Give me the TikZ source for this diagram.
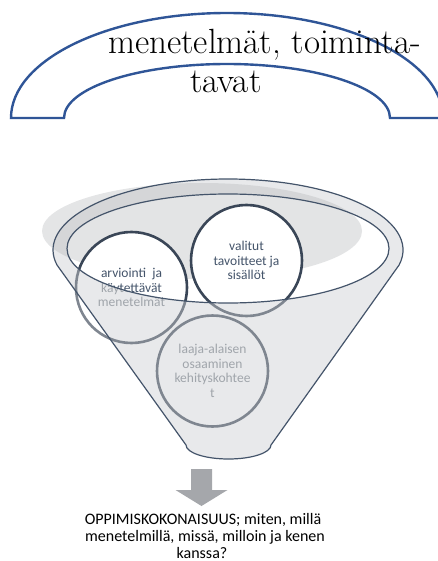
\documentclass[tikz,border=0pt]{standalone}
\usepackage{fontspec}
\newfontfamily\carlito{Carlito}
\definecolor{arcblue}{HTML}{2F5597}
\definecolor{slate}{HTML}{44546A}
\definecolor{slatedark}{HTML}{3A4657}
\definecolor{funnelgray}{HTML}{E8E9EB}
\definecolor{shadowgray}{HTML}{B4B6B9}
\definecolor{hiddenline}{HTML}{7F8690}
\definecolor{hiddentext}{HTML}{A0A5AB}
\definecolor{arrowgray}{HTML}{A5A7AB}
\tikzset{
  bubble/.style={circle, minimum size=111, inner sep=0, align=center,
    font=\carlito\fontsize{13.5}{14.6}\selectfont},
  bubbletop/.style={bubble, draw=slatedark, line width=2.6, fill=white, text=slate},
  bubblelow/.style={bubble, draw=hiddenline, line width=2.6, text=hiddentext},
  rimline/.style={draw=slate, line width=1.2},
  caption/.style={anchor=base, inner sep=0, font=\carlito\fontsize{16}{17}\selectfont},
  headline/.style={anchor=base west, inner sep=0, font=\fontsize{35}{40}\selectfont},
}
\begin{document}
\begin{tikzpicture}[x=1pt, y=-1pt]
\useasboundingbox (0,0) rectangle (438,561);

% block arc with its label
\path[draw=arcblue, line width=2.4, fill=white]
  (11,118) arc[start angle=180, end angle=360, x radius=216, y radius=105]
  -- (390,118) arc[start angle=360, end angle=180, x radius=163, y radius=54]
  -- cycle;
\node[headline] (title1) at (108,54) {menetelmät, toiminta-};
\node[headline] (title2) at (190,93) {tavat};

% funnel body, opening and inner shadow
\fill[funnelgray] (57,265) arc[start angle=167.8, end angle=372.2, x radius=175, y radius=71]
  -- (271,445) arc[start angle=0, end angle=180, x radius=42.5, y radius=14] -- cycle;
\fill[white] (228,248.5) ellipse[x radius=161, y radius=54.5];
\fill[shadowgray, fill opacity=0.36] (202,231) ellipse[x radius=160, y radius=48];

% circles seen through the opening
\begin{scope}
  \clip (0,0) -- (438,0) -- (438,248.5) -- (389,248.5)
    arc[start angle=0, end angle=180, x radius=161, y radius=54.5] -- (0,248.5) -- cycle;
  \node[bubbletop] (goals) at (246.5,260.5) {valitut\\tavoitteet ja\\sisällöt};
  \node[bubbletop] (assess) at (131.5,287.5) {arviointi\ \ ja\\käytettävät\\menetelmät};
  \node[bubbletop] (skills) at (212.5,371) {laaja-alaisen\\osaaminen\\kehityskohtee\\t};
\end{scope}

% circles behind the front wall of the funnel
\begin{scope}
  \clip (0,248.5) -- (67,248.5)
    arc[start angle=180, end angle=0, x radius=161, y radius=54.5]
    -- (438,248.5) -- (438,561) -- (0,561) -- cycle;
  \node[bubblelow] (goalslow) at (246.5,260.5) {valitut\\tavoitteet ja\\sisällöt};
  \node[bubblelow] (assesslow) at (131.5,287.5) {arviointi\ \ ja\\käytettävät\\menetelmät};
  \node[bubblelow] (skillslow) at (212.5,371) {laaja-alaisen\\osaaminen\\kehityskohtee\\t};
\end{scope}

% funnel outlines
\draw[rimline] (57,265) arc[start angle=167.8, end angle=372.2, x radius=175, y radius=71]
  -- (271,445) arc[start angle=0, end angle=180, x radius=42.5, y radius=14] -- cycle;
\draw[rimline] (228,248.5) ellipse[x radius=161, y radius=54.5];

% downward block arrow
\fill[arrowgray] (191,469) -- (212,469) -- (212,490) -- (227.5,490) -- (201.5,506)
  -- (175.5,490) -- (191,490) -- cycle;

% result text
\node[caption] (result1) at (203,524) {OPPIMISKOKONAISUUS; miten, millä};
\node[caption] (result2) at (205,541.5) {menetelmillä, missä, milloin ja kenen};
\node[caption] (result3) at (202,558) {kanssa?};
\end{tikzpicture}
\end{document}
